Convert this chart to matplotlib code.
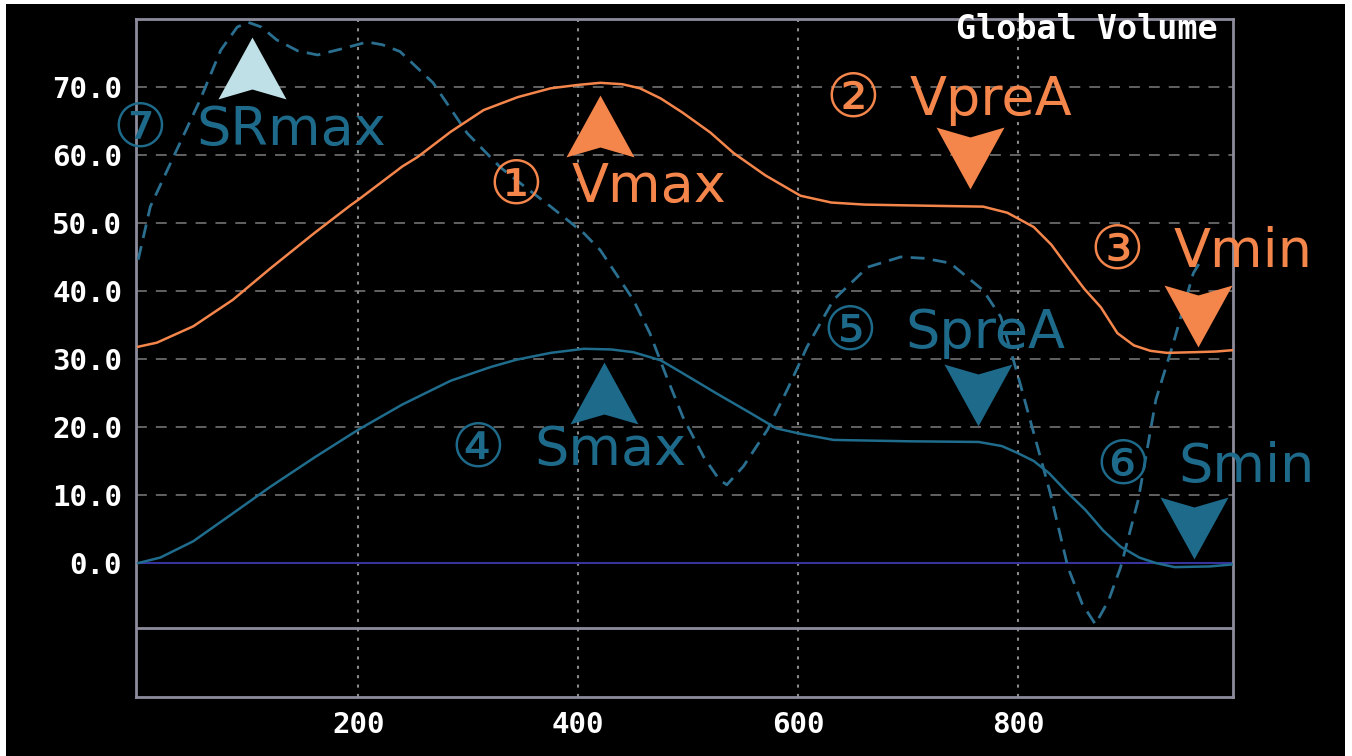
import matplotlib
matplotlib.use("Agg")
import matplotlib.pyplot as plt
from matplotlib.path import Path
from matplotlib.patches import Rectangle
from matplotlib.transforms import offset_copy

# volume curve (orange)
v_x = [0, 17, 50, 86, 120, 160, 193, 200, 240, 254, 284, 314, 345, 375, 400, 420, 440, 456,
       475, 495, 520, 541, 570, 602, 630, 660, 693, 730, 768, 790, 814, 830, 845, 860, 875,
       890, 905, 920, 935, 960, 980, 995]
v_y = [31.8, 32.4, 34.8, 38.7, 43.3, 48.5, 52.6, 53.4, 58.3, 59.7, 63.4, 66.6, 68.5, 69.8, 70.3,
       70.6, 70.4, 69.8, 68.3, 66.2, 63.3, 60.3, 57.0, 54.0, 53.0, 52.7, 52.6, 52.5, 52.4, 51.5,
       49.4, 46.8, 43.5, 40.3, 37.6, 33.8, 32.0, 31.2, 30.9, 31.0, 31.1, 31.3]

# S curve (solid blue)
s_x = [0, 20, 50, 86, 120, 160, 200, 240, 284, 320, 344, 375, 405, 430, 450, 475, 495, 525,
       556, 580, 602, 632, 700, 764, 785, 799, 814, 828, 845, 861, 877, 893, 910, 925, 942,
       974, 995]
s_y = [0.0, 0.8, 3.2, 7.3, 11.2, 15.5, 19.6, 23.3, 26.8, 28.8, 29.9, 30.9, 31.5, 31.4, 31.0,
       29.8, 27.9, 25.0, 22.1, 19.8, 19.0, 18.1, 17.9, 17.8, 17.2, 16.2, 15.0, 13.2, 10.3, 7.8,
       4.8, 2.4, 0.8, 0.0, -0.6, -0.5, -0.2]

# SR curve (dashed blue)
sr_x = [0, 11, 32, 56, 75, 90, 100, 112, 126, 145, 163, 185, 208, 222, 238, 268, 299, 329, 350,
        375, 405, 420, 450, 465, 480, 495, 514, 528, 535, 550, 572, 590, 608, 632, 663, 693,
        715, 738, 768, 784, 799, 814, 829, 845, 858, 870, 882, 893, 909, 925, 941, 959, 968]
sr_y = [44.6, 52.4, 59.7, 68.0, 75.4, 78.8, 79.5, 78.8, 76.9, 75.3, 74.7, 75.6, 76.6, 76.2, 75.2,
        70.6, 63.2, 58.2, 55.5, 52.4, 48.5, 46.0, 38.7, 33.8, 27.5, 21.5, 15.6, 12.3, 11.5, 14.2,
        19.6, 25.5, 31.8, 38.7, 43.5, 45.0, 44.8, 44.1, 40.1, 36.2, 27.9, 19.1, 10.3, -0.6, -6.0,
        -9.0, -5.5, -0.6, 9.3, 24.0, 32.4, 42.6, 45.0]

# annotation labels: circled number + name
label_num = ["①", "②", "③", "④", "⑤", "⑥", "⑦"]
label_name = ["Vmax", "VpreA", "Vmin", "Smax", "SpreA", "Smin", "SRmax"]
label_x = [318, 625, 865, 284, 622, 870, -23]
label_y = [55.3, 68.1, 45.7, 16.6, 33.8, 14.1, 63.7]

# arrow markers: up (max) and down (others)
up_x = [420, 423, 103]
up_y = [64.3, 25.0, 72.8]
down_x = [756, 763, 963, 960]
down_y = [59.6, 24.7, 36.3, 5.1]

yticks = [0, 10, 20, 30, 40, 50, 60, 70]
xticks = [200, 400, 600, 800]

ORANGE = "#F4864C"
TEAL = "#1E6A8A"

up_arrow = Path([(0, 1), (1.1, -1), (0, -0.68), (-1.1, -1), (0, 1)],
                [Path.MOVETO, Path.LINETO, Path.LINETO, Path.LINETO, Path.CLOSEPOLY])
down_arrow = Path([(0, -1), (1.1, 1), (0, 0.68), (-1.1, 1), (0, -1)],
                  [Path.MOVETO, Path.LINETO, Path.LINETO, Path.LINETO, Path.CLOSEPOLY])

fig = plt.figure(figsize=(13.52, 7.56), dpi=100, facecolor="white")
fig.patches.append(Rectangle((6 / 1352, 0), 1339 / 1352, 752 / 756,
                             transform=fig.transFigure, facecolor="black", edgecolor="none", zorder=-10))
ax = fig.add_axes([0.1006, 0.078, 0.8113, 0.897])
ax.set_facecolor("black")

ax.set_xlim(-2, 995)
ax.set_ylim(-19.7, 80)

for y in yticks[1:]:
    ax.axhline(y, color="#6a6a6a", lw=1.3, ls=(0, (6, 5)), zorder=1)
for x in xticks:
    ax.axvline(x, color="#8a8a8a", lw=1.5, ls=(0, (1.5, 3)), zorder=1)
ax.axhline(0, color="#34349c", lw=1.5, zorder=2)
ax.axhline(-9.5, color="#8c8c9c", lw=2, zorder=2)

ax.plot(sr_x, sr_y, color="#2A6F8F", lw=2, ls=(0, (5, 3)), zorder=3)
ax.plot(s_x, s_y, color="#1F6C8C", lw=1.8, zorder=4)
ax.plot(v_x, v_y, color=ORANGE, lw=1.8, zorder=4)

up_colors = [ORANGE, TEAL, "#BFE0E6"]
for x, y, c in zip(up_x, up_y, up_colors):
    ax.plot(x, y, marker=up_arrow, ms=49, color=c, mec="none", ls="none", zorder=5)
down_colors = [ORANGE, TEAL, ORANGE, TEAL]
for x, y, c in zip(down_x, down_y, down_colors):
    ax.plot(x, y, marker=down_arrow, ms=49, color=c, mec="none", ls="none", zorder=5)

name_tr = offset_copy(ax.transData, fig=fig, x=60, y=0, units="points")
for num, name, x, y in zip(label_num, label_name, label_x, label_y):
    col = ORANGE if name.startswith("V") else TEAL
    ax.text(x, y, num, color=col, fontsize=44, ha="left", va="center",
            family=["DejaVu Sans", "Noto Sans CJK JP"], clip_on=False, zorder=6)
    ax.text(x, y, name, color=col, fontsize=39, ha="left", va="center",
            family="DejaVu Sans", transform=name_tr, clip_on=False, zorder=6)

ax.text(0.986, 0.984, "Global Volume", transform=ax.transAxes, color="white",
        fontsize=24, fontweight="bold", family="DejaVu Sans Mono", ha="right", va="center")

ax.set_yticks(yticks)
ax.set_yticklabels([f"{v:.1f}" for v in yticks])
ax.set_xticks(xticks)
ax.set_xticklabels([str(v) for v in xticks])
for lab in ax.get_xticklabels() + ax.get_yticklabels():
    lab.set_family("DejaVu Sans Mono")
    lab.set_fontweight("bold")
    lab.set_fontsize(21)
    lab.set_color("white")
ax.tick_params(length=0, pad=10)

for sp in ax.spines.values():
    sp.set_color("#8c8c9c")
    sp.set_linewidth(2)

fig.savefig("out.png", dpi=100, facecolor=fig.get_facecolor())
